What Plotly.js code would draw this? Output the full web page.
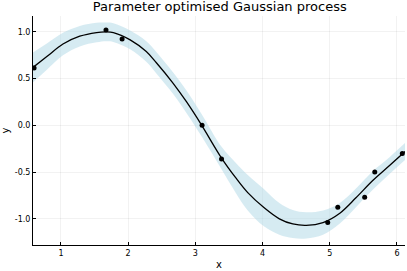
<!DOCTYPE html>
<html><head><meta charset="utf-8">
<script src="https://cdn.plot.ly/plotly-3.0.1.min.js"></script>
<style>html,body{margin:0;padding:0;background:#fff;}#c{width:407px;height:271px;}</style>
</head><body><div id="c"></div>
<script>
const obsX = [0.60, 1.67, 1.91, 3.10, 3.39, 4.97, 5.12, 5.52, 5.67, 6.08];
const obsY = [0.615, 1.02, 0.925, 0.0, -0.36, -1.04, -0.875, -0.77, -0.50, -0.30];
const gridX = [0.584, 0.79, 1.03, 1.28, 1.53, 1.67, 1.78, 2.03, 2.27, 2.42, 2.67, 2.87, 3.095, 3.39, 3.60, 3.78, 4.02, 4.25, 4.45, 4.65, 4.90, 5.15, 5.39, 5.64, 5.89, 6.12];
const meanY = [0.62, 0.736, 0.87, 0.954, 0.993, 1.0, 0.993, 0.915, 0.79, 0.67, 0.45, 0.25, 0.0, -0.35, -0.56, -0.72, -0.88, -1.0, -1.055, -1.07, -1.04, -0.94, -0.775, -0.59, -0.43, -0.28];
const stdY = [0.16, 0.14, 0.12, 0.11, 0.105, 0.10, 0.10, 0.10, 0.11, 0.115, 0.115, 0.12, 0.12, 0.12, 0.16, 0.19, 0.20, 0.17, 0.15, 0.14, 0.13, 0.11, 0.10, 0.10, 0.09, 0.09];
const xTicks = [1, 2, 3, 4, 5, 6];
const yTicks = [-1.0, -0.5, 0.0, 0.5, 1.0];

const upper = meanY.map((m, i) => m + stdY[i]);
const lower = meanY.map((m, i) => m - stdY[i]);

const traces = [
  {x: gridX, y: lower, mode: 'lines', line: {width: 0, shape: 'spline'}, hoverinfo: 'skip', showlegend: false},
  {x: gridX, y: upper, mode: 'lines', fill: 'tonexty', fillcolor: 'rgba(173,216,230,0.5)', line: {width: 0, shape: 'spline'}, showlegend: false},
  {x: gridX, y: meanY, mode: 'lines', line: {color: 'black', width: 1.3, shape: 'spline'}, showlegend: false},
  {x: obsX, y: obsY, mode: 'markers', marker: {color: 'black', size: 5}, showlegend: false}
];

const axisCommon = {
  showline: true, linecolor: 'black', linewidth: 1, mirror: false,
  showgrid: true, gridcolor: 'rgba(0,0,0,0.1)', gridwidth: 0.5,
  zeroline: false, ticks: 'inside', ticklen: 3, tickcolor: 'black',
  tickfont: {family: 'DejaVu Sans', size: 8, color: 'black'}
};

const layout = {
  width: 407, height: 271,
  margin: {l: 33, r: 2, t: 16, b: 26},
  paper_bgcolor: 'white', plot_bgcolor: 'white',
  title: {text: 'Parameter optimised Gaussian process', font: {family: 'DejaVu Sans', size: 13, color: 'black'}, x: 0.54, xanchor: 'center', y: 0.975, yanchor: 'middle'},
  xaxis: Object.assign({}, axisCommon, {range: [0.584, 6.12], tickvals: xTicks, ticktext: xTicks.map(String),
    title: {text: 'x', font: {family: 'DejaVu Sans', size: 10, color: 'black'}, standoff: 4}}),
  yaxis: Object.assign({}, axisCommon, {range: [-1.28, 1.17], tickvals: yTicks, ticktext: yTicks.map(v => v.toFixed(1)),
    title: {text: 'y', font: {family: 'DejaVu Sans', size: 10, color: 'black'}, standoff: 6}})
};

Plotly.newPlot('c', traces, layout, {staticPlot: true, displayModeBar: false});
</script>
</body></html>
